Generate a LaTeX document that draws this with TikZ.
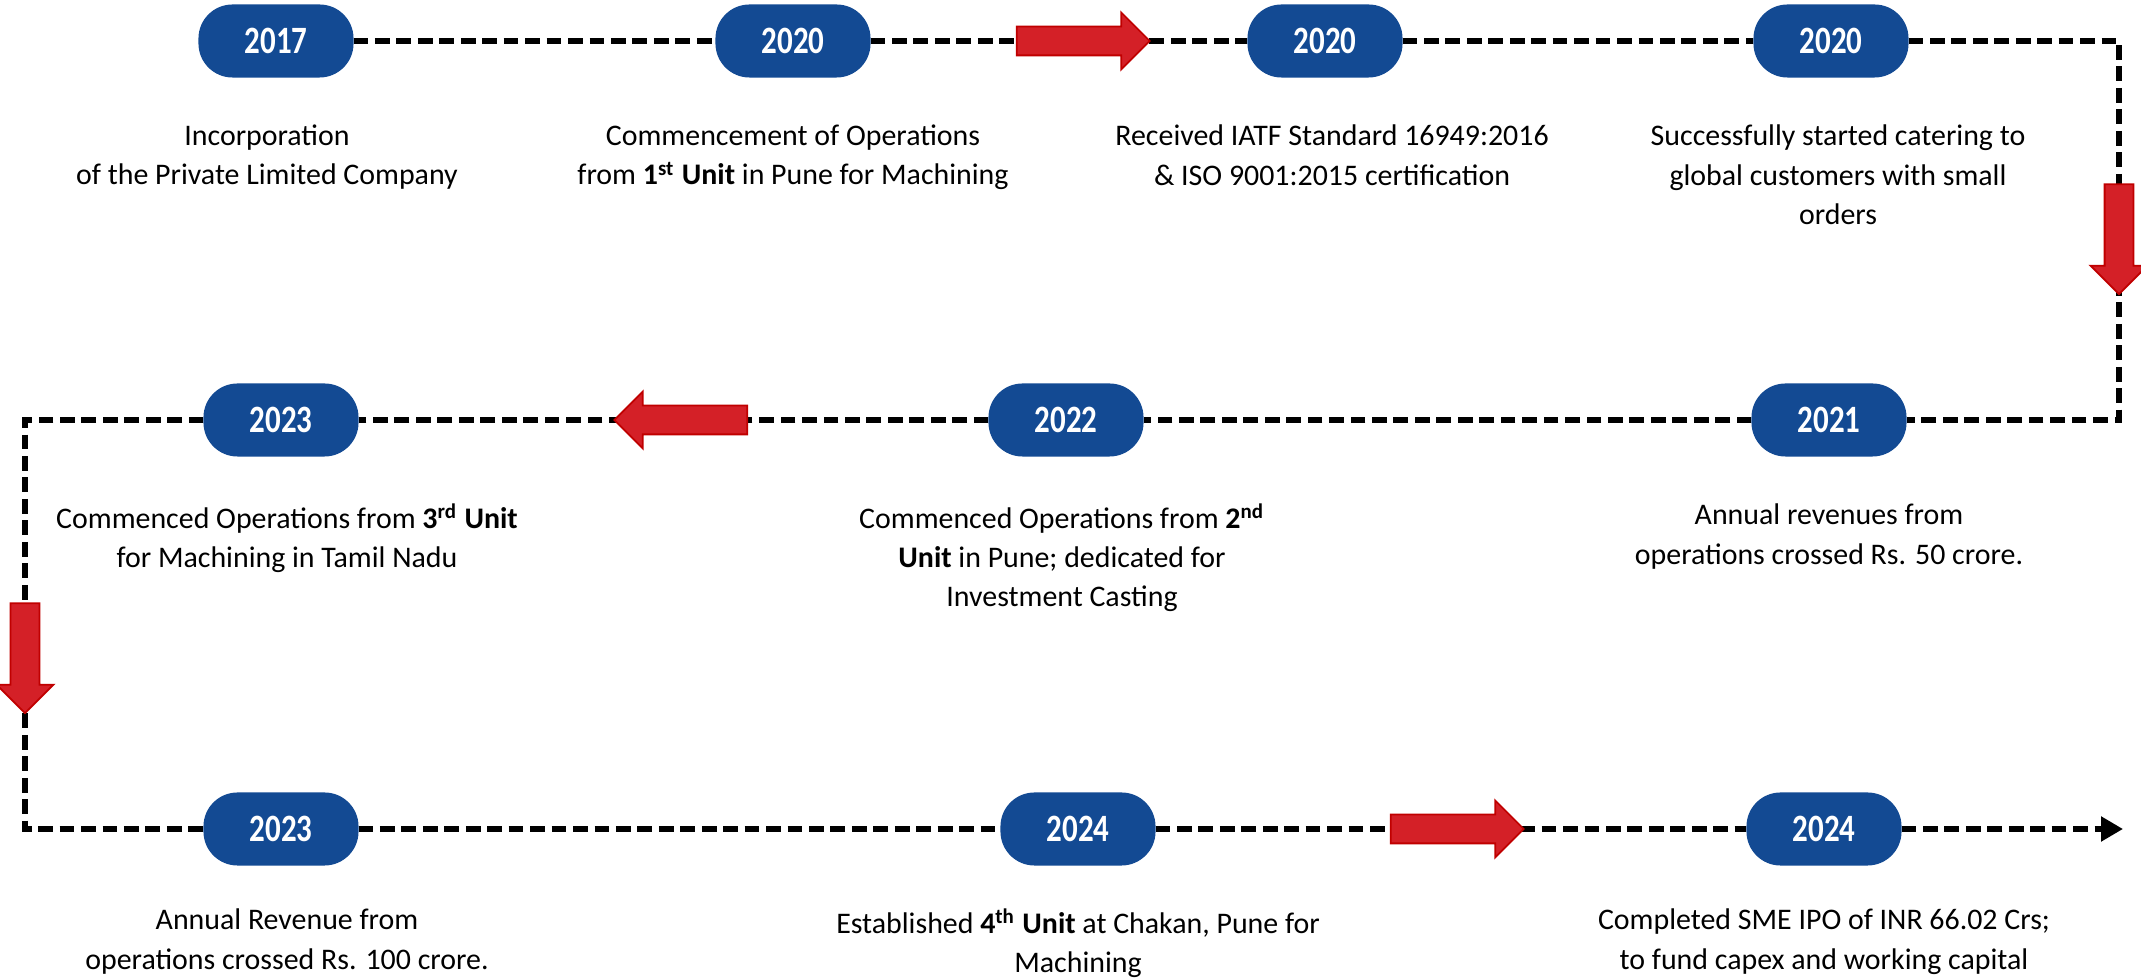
\documentclass[tikz,border=0pt]{standalone}
\usepackage{fontspec}
\setmainfont{Carlito}
\newfontfamily\yearfont{Carlito}[FakeStretch=0.8]
\usepackage{xcolor}
\usepackage{tikz}
\usetikzlibrary{positioning}
\usetikzlibrary{shapes.arrows}
\usetikzlibrary{arrows.meta}
\definecolor{pillblue}{RGB}{19,74,147}
\definecolor{arrowred}{RGB}{212,32,39}
\definecolor{arrowedge}{RGB}{192,0,0}

\begin{document}
\begin{tikzpicture}[
	x=0.01cm, y=-0.01cm,
	font=\fontsize{8.5}{11.1}\selectfont
]
\tikzset{
    yearnode/.style = {rectangle, rounded corners=0.34cm, fill=pillblue, text=white, minimum width=1.55cm, minimum height=0.73cm, outer sep=0pt, font=\yearfont\fontsize{11}{13}\selectfont\bfseries},
		eventtext/.style = {align=center, inner sep=0pt},
		timeline/.style = {line width=1.5pt, dash pattern=on 4.2pt off 1.9pt},
		redarrow/.style = {single arrow, fill=arrowred, draw=arrowedge, line width=0.5pt, inner xsep=0pt, inner ysep=0.135cm, minimum width=0.55cm, single arrow head extend=0.14cm}
}
\useasboundingbox (0,0) rectangle (2141,980);
% year pills
\node[yearnode] (y2017) at (276,41) {2017};
\node[yearnode] (y2020a) at (793,41) {2020};
\node[yearnode] (y2020b) at (1325,41) {2020};
\node[yearnode] (y2020c) at (1831,41) {2020};
\node[yearnode] (y2021) at (1829,420) {2021};
\node[yearnode] (y2022) at (1066,420) {2022};
\node[yearnode] (y2023a) at (281,420) {2023};
\node[yearnode] (y2023b) at (281,829) {2023};
\node[yearnode] (y2024a) at (1078,829) {2024};
\node[yearnode] (y2024b) at (1824,829) {2024};
% events
\node[eventtext, below=0.47cm of y2017, xshift=-0.09cm] (t2017) {Incorporation\\of the Private Limited Company};
\node[eventtext, below=0.47cm of y2020a] (t2020a) {Commencement of Operations\\from \textbf{1\textsuperscript{st} Unit} in Pune for Machining};
\node[eventtext, below=0.47cm of y2020b, xshift=0.07cm] (t2020b) {Received IATF Standard 16949:2016\\\& ISO 9001:2015 certification};
\node[eventtext, below=0.47cm of y2020c, xshift=0.07cm] (t2020c) {Successfully started catering to\\global customers with small\\orders};
\node[eventtext, below=0.47cm of y2021] (t2021) {Annual revenues from\\operations crossed Rs. 50 crore.};
\node[eventtext, below=0.47cm of y2022, xshift=-0.04cm] (t2022) {Commenced Operations from \textbf{2\textsuperscript{nd}}\\\textbf{Unit} in Pune; dedicated for\\Investment Casting};
\node[eventtext, below=0.47cm of y2023a, xshift=0.06cm] (t2023a) {Commenced Operations from \textbf{3\textsuperscript{rd} Unit}\\for Machining in Tamil Nadu};
\node[eventtext, below=0.43cm of y2023b, xshift=0.06cm] (t2023b) {Annual Revenue from\\operations crossed Rs. 100 crore.};
\node[eventtext, below=0.43cm of y2024a] (t2024a) {Established \textbf{4\textsuperscript{th} Unit} at Chakan, Pune for\\Machining};
\node[eventtext, below=0.43cm of y2024b] (t2024b) {Completed SME IPO of INR 66.02 Crs;\\to fund capex and working capital};
% dashed timeline
\coordinate (rturn) at (2119,420);
\coordinate (lturn) at (25,829);
\coordinate (tlend) at (2123,829);
\draw[timeline] (y2017) -- (y2020a);
\draw[timeline] (y2020a) -- (y2020b);
\draw[timeline] (y2020b) -- (y2020c);
\draw[timeline] (y2020c.east) -| (rturn) -- (y2021.east);
\draw[timeline] (y2021) -- (y2022);
\draw[timeline] (y2022) -- (y2023a);
\draw[timeline] (y2023a.west) -| (lturn) -- (y2023b.west);
\draw[timeline] (y2023b) -- (y2024a);
\draw[timeline] (y2024a) -- (y2024b);
\draw[timeline, -{Triangle[length=0.22cm, width=0.24cm]}] (y2024b) -- (tlend);
% red arrows
\node[redarrow, minimum height=1.33cm] (a1) at (1076,41) {};
\node[redarrow, minimum height=1.10cm, rotate=-90] (a2) at (2119,232) {};
\node[redarrow, minimum height=1.33cm, rotate=180] (a3) at (688,420) {};
\node[redarrow, minimum height=1.10cm, rotate=-90] (a4) at (25,651) {};
\node[redarrow, minimum height=1.33cm] (a5) at (1450,829) {};
\end{tikzpicture}
\end{document}
